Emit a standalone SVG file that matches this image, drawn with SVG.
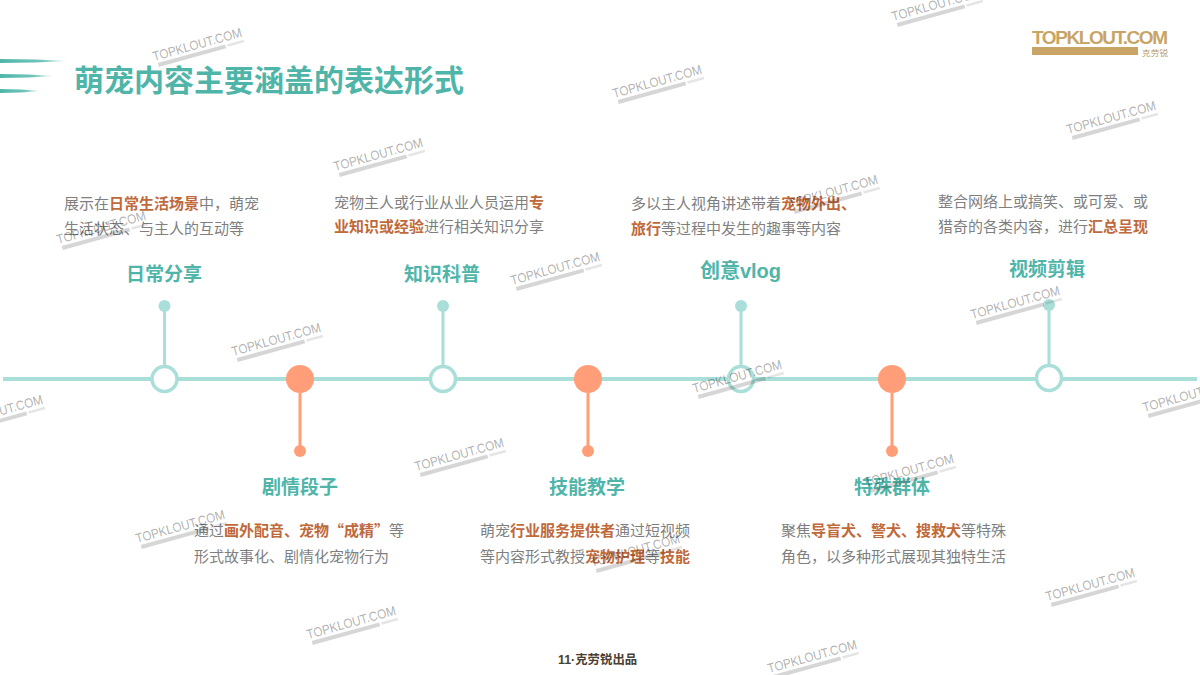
<svg xmlns="http://www.w3.org/2000/svg" width="1200" height="675" viewBox="0 0 1200 675">
<style>
text{font-family:"Liberation Sans","Noto Sans CJK SC",sans-serif}
.d{font-family:"Noto Sans CJK SC",sans-serif;font-size:15px;fill:#7f7f7f}
.d tspan{font-weight:700;fill:#c0693a}
.t{font-family:"Noto Sans CJK SC",sans-serif;font-size:19px;font-weight:700;fill:#4fb5a9;text-anchor:middle}
.a{stroke:#a9dfd8;stroke-width:3;fill:none}
.o{stroke:#ff9e78;stroke-width:3;fill:none}
.ta{fill:#a9dfd8}
.or{fill:#ff9e78}
.ring{fill:#fff;stroke:#a9dfd8;stroke-width:3.500}
.wt{font-size:13px;fill:#000;fill-opacity:.3;stroke:#000;stroke-opacity:.12;stroke-width:.3}
</style>
<defs>
<linearGradient id="s"><stop offset="0" stop-color="#4fb5a9"/><stop offset=".6" stop-color="#4fb5a9" stop-opacity=".8"/><stop offset="1" stop-color="#4fb5a9" stop-opacity="0"/></linearGradient>
<g id="w" transform="rotate(-15.500)">
<text class="wt" x="0" y="0" textLength="92" lengthAdjust="spacingAndGlyphs">TOPKLOUT.COM</text>
<rect x="3" y="3" width="70" height="4" fill="#000" fill-opacity=".16"/>
<rect x="75" y="3.500" width="17" height="2.500" fill="#000" fill-opacity=".1"/>
</g>
</defs>
<rect width="1200" height="675" fill="#fff"/>
<g id="header">
<path d="M0 59L35 59.500L70 61L35 62.500L0 63Z" fill="url(#s)"/>
<path d="M0 74L28 74.500L56 76L28 77.500L0 78Z" fill="url(#s)"/>
<path d="M0 89L21 89.500L42 91L21 92.500L0 93Z" fill="url(#s)"/>
<text x="74" y="91" font-size="30" font-weight="700" fill="#4fb5a9" style="font-family:'Noto Sans CJK SC',sans-serif">萌宠内容主要涵盖的表达形式</text>
</g>
<g id="logo">
<text x="1032" y="43.500" font-size="19" font-weight="700" fill="#c8a566" textLength="136" lengthAdjust="spacing">TOPKLOUT.COM</text>
<rect x="1032" y="47" width="106" height="8" fill="#c8a566"/>
<text x="1142" y="56" font-size="8.500" fill="#b59a68" textLength="26" style="font-family:'Noto Sans CJK SC',sans-serif">克劳锐</text>
</g>
<g id="connectors">
<path d="M3 379H1197" stroke="#a9dfd8" stroke-width="4" fill="none"/>
<path class="a" d="M164.500 306V367M443 306V367M741 306V367M1049 305V366"/>
<path class="o" d="M300 393V451M588 393V451M892 393V451"/>
</g>
<g id="n1"><circle class="ta" cx="164.500" cy="306" r="6"/><circle class="ring" cx="164.500" cy="379" r="12.500"/>
<text class="t" x="164" y="280.500">日常分享</text>
<text class="d" x="64" y="209">展示在<tspan>日常生活场景</tspan>中，萌宠</text>
<text class="d" x="64" y="234">生活状态、与主人的互动等</text></g>
<g id="n2"><circle class="or" cx="300" cy="379" r="14"/><circle class="or" cx="300" cy="451" r="6"/>
<text class="t" x="300" y="494">剧情段子</text>
<text class="d" x="194" y="536">通过<tspan>画外配音、宠物“成精”</tspan>等</text>
<text class="d" x="194" y="562">形式故事化、剧情化宠物行为</text></g>
<g id="n3"><circle class="ta" cx="443" cy="306" r="6"/><circle class="ring" cx="443" cy="379" r="12.500"/>
<text class="t" x="442" y="280.500">知识科普</text>
<text class="d" x="334" y="208">宠物主人或行业从业人员运用<tspan>专</tspan></text>
<text class="d" x="334" y="232"><tspan>业知识或经验</tspan>进行相关知识分享</text></g>
<g id="n4"><circle class="or" cx="588" cy="379" r="14"/><circle class="or" cx="588" cy="451" r="6"/>
<text class="t" x="587" y="494">技能教学</text>
<text class="d" x="480" y="536">萌宠<tspan>行业服务提供者</tspan>通过短视频</text>
<text class="d" x="480" y="562">等内容形式教授<tspan>宠物护理</tspan>等<tspan>技能</tspan></text></g>
<g id="n5"><circle class="ta" cx="741" cy="306" r="6"/><circle class="ring" cx="741" cy="379" r="12.500"/>
<text class="t" x="740.500" y="277.500" style="font-size:20px">创意<tspan style="font-family:'Liberation Sans',sans-serif">vlog</tspan></text>
<text class="d" x="631" y="209">多以主人视角讲述带着<tspan>宠物外出、</tspan></text>
<text class="d" x="631" y="234"><tspan>旅行</tspan>等过程中发生的趣事等内容</text></g>
<g id="n6"><circle class="or" cx="892" cy="379" r="14"/><circle class="or" cx="892" cy="451" r="6"/>
<text class="t" x="892" y="494">特殊群体</text>
<text class="d" x="781" y="536">聚焦<tspan>导盲犬、警犬、搜救犬</tspan>等特殊</text>
<text class="d" x="781" y="562">角色，以多种形式展现其独特生活</text></g>
<g id="n7"><circle class="ta" cx="1049" cy="305" r="6"/><circle class="ring" cx="1049" cy="378" r="12.500"/>
<text class="t" x="1047" y="276">视频剪辑</text>
<text class="d" x="938" y="207">整合网络上或搞笑、或可爱、或</text>
<text class="d" x="938" y="232">猎奇的各类内容，进行<tspan>汇总呈现</tspan></text></g>
<text id="footer" x="558" y="664" font-size="12.400" font-weight="700" fill="#4b4030">11·<tspan style="font-family:'Noto Sans CJK SC',sans-serif">克劳锐出品</tspan></text>
<g id="watermarks" transform="translate(2 1)">
<use href="#w" x="152" y="60"/><use href="#w" x="891" y="20"/><use href="#w" x="612" y="97"/><use href="#w" x="1066" y="133"/>
<use href="#w" x="333" y="170"/><use href="#w" x="788" y="207"/><use href="#w" x="56" y="243"/><use href="#w" x="510" y="284"/>
<use href="#w" x="970" y="318"/><use href="#w" x="231" y="355"/><use href="#w" x="692" y="392"/><use href="#w" x="1142" y="411"/>
<use href="#w" x="-47" y="427"/><use href="#w" x="414" y="470"/><use href="#w" x="864" y="486"/><use href="#w" x="135" y="542"/>
<use href="#w" x="590" y="566"/><use href="#w" x="1045" y="600"/><use href="#w" x="306" y="638"/><use href="#w" x="767" y="672"/>
</g>
</svg>
